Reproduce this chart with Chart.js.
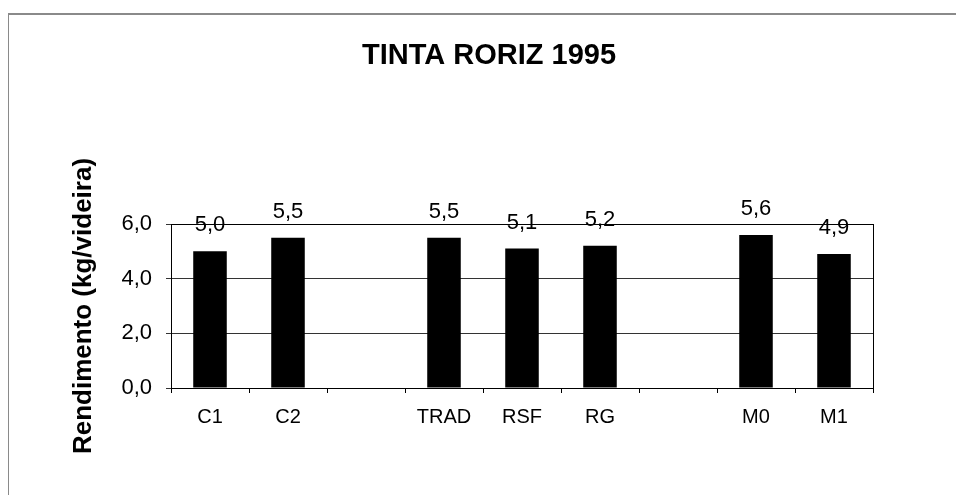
<!DOCTYPE html>
<html>
<head>
<meta charset="utf-8">
<script src="https://cdn.jsdelivr.net/npm/chart.js@4.4.1/dist/chart.umd.min.js"></script>
<style>
  html, body { margin: 0; padding: 0; background: #fff; }
  #wrap { position: relative; width: 956px; height: 495px; overflow: hidden; }
  #frame { position: absolute; left: 8px; top: 13px; width: 960px; height: 500px;
           border-left: 1px solid #8a8a8a; border-top: 2px solid #8a8a8a; }
  canvas { position: absolute; left: 0; top: 0; }
</style>
</head>
<body>
<div id="wrap">
  <div id="frame"></div>
  <canvas id="chart" width="956" height="495"></canvas>
</div>
<script>
// Data (empty slots are the gaps between groups)
const categories = ['C1', 'C2', '', 'TRAD', 'RSF', 'RG', '', 'M0', 'M1'];
const rendimento = [5.0, 5.5, null, 5.5, 5.1, 5.2, null, 5.6, 4.9];
const yTickValues = [0, 2, 4, 6];
const chartTitle = 'TINTA RORIZ 1995';

const FONT = '"Liberation Sans", Arial, sans-serif';

// comma as decimal separator, one decimal
function fmt(v) {
    return Number(v).toFixed(1).replace('.', ',');
}

// title, centred on the page frame rather than the plot
const pageTitle = {
    id: 'pageTitle',
    afterDraw(chart) {
        const ctx = chart.ctx;
        ctx.save();
        ctx.font = 'bold 29px ' + FONT;
        ctx.fillStyle = '#000';
        ctx.textAlign = 'center';
        ctx.textBaseline = 'alphabetic';
        ctx.fillText(chartTitle, 489, 64);
        ctx.restore();
    }
};

// value labels above each bar
const barLabels = {
    id: 'barLabels',
    afterDatasetsDraw(chart) {
        const ctx = chart.ctx;
        const meta = chart.getDatasetMeta(0);
        ctx.save();
        ctx.font = '22px ' + FONT;
        ctx.fillStyle = '#000';
        ctx.textAlign = 'center';
        ctx.textBaseline = 'alphabetic';
        meta.data.forEach((bar, i) => {
            const v = rendimento[i];
            if (v === null) return;
            ctx.fillText(fmt(v), bar.x, bar.y - 20);
        });
        ctx.restore();
    }
};

// box around the plot area
const plotBox = {
    id: 'plotBox',
    afterDraw(chart) {
        const { ctx, chartArea: a } = chart;
        ctx.save();
        ctx.strokeStyle = '#000';
        ctx.lineWidth = 1;
        ctx.strokeRect(a.left + 0.5, a.top + 0.5, a.right - a.left, a.bottom - a.top);
        ctx.restore();
    }
};

const ctx = document.getElementById('chart').getContext('2d');
const chart = new Chart(ctx, {
    type: 'bar',
    data: {
        labels: categories,
        datasets: [{
            data: rendimento,
            backgroundColor: '#000',
            borderWidth: 0,
            barPercentage: 0.43,
            categoryPercentage: 1.0
        }]
    },
    options: {
        responsive: false,
        animation: false,
        layout: { padding: { left: 0, right: 83, top: 224, bottom: 0 } },
        plugins: {
            legend: { display: false },
            tooltip: { enabled: false },
            title: { display: false }
        },
        scales: {
            x: {
                grid: {
                    offset: true,
                    drawOnChartArea: false,
                    drawTicks: true,
                    tickLength: 5,
                    color: '#000'
                },
                border: { color: '#000' },
                ticks: {
                    color: '#000',
                    font: { family: FONT, size: 20 },
                    padding: 12,
                    maxRotation: 0,
                    autoSkip: false
                },
                afterFit(scale) { scale.height = 107; }
            },
            y: {
                min: 0,
                max: 6,
                afterBuildTicks(scale) {
                    scale.ticks = yTickValues.map(v => ({ value: v }));
                },
                grid: {
                    color: '#333',
                    lineWidth: 1,
                    tickLength: 5
                },
                border: { color: '#000' },
                ticks: {
                    color: '#000',
                    font: { family: FONT, size: 22 },
                    padding: 14,
                    callback: v => fmt(v)
                },
                title: {
                    display: true,
                    text: 'Rendimento (kg/videira)',
                    color: '#000',
                    font: { family: FONT, size: 26, weight: 'bold' },
                    padding: { top: 68, bottom: 0 }
                },
                afterFit(scale) { scale.width = 171; }
            }
        }
    },
    plugins: [barLabels, plotBox, pageTitle]
});
</script>
</body>
</html>
